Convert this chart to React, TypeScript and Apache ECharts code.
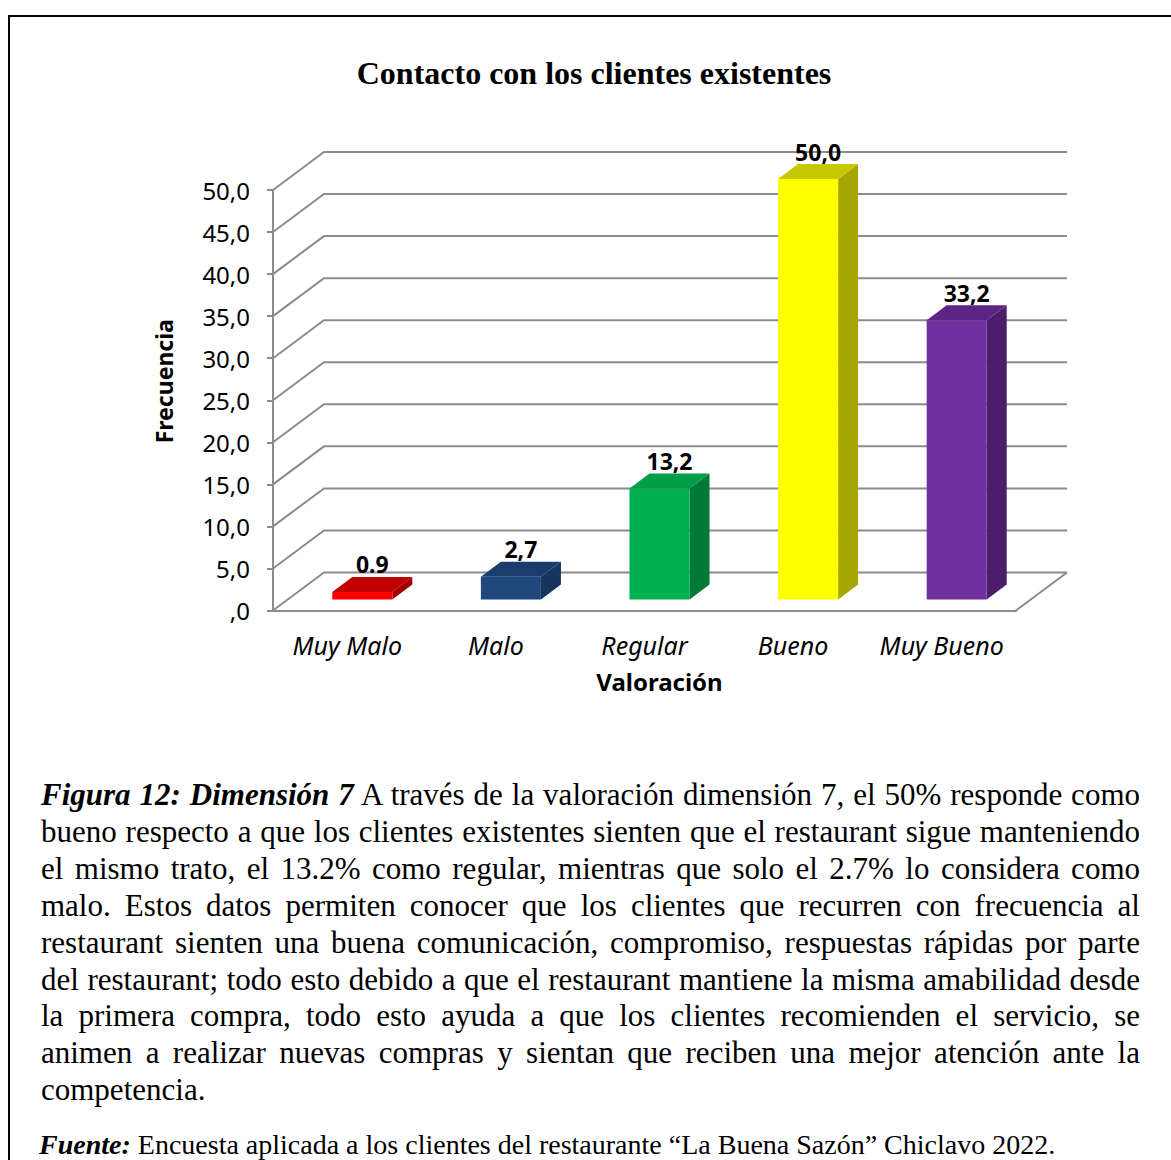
import React, { useEffect, useRef } from "react";
import * as echarts from "echarts";

const categories = ["Muy Malo", "Malo", "Regular", "Bueno", "Muy Bueno"];
const values = [0.9, 2.7, 13.2, 50.0, 33.2];
const valueLabels = ["0.9", "2,7", "13,2", "50,0", "33,2"];
const yTicks = [0, 5, 10, 15, 20, 25, 30, 35, 40, 45, 50];
const yTickLabels = [",0", "5,0", "10,0", "15,0", "20,0", "25,0", "30,0", "35,0", "40,0", "45,0", "50,0"];

const frontColors = ["#FF0000", "#1F497D", "#00B050", "#FFFF00", "#7030A0"];
const topColors = ["#C00000", "#1B3D6B", "#009E47", "#C8C800", "#5C2585"];
const sideColors = ["#A00000", "#17345C", "#007A36", "#A6A600", "#4B1E6B"];

const paragraphLines: { b?: string; t: string }[] = [
  { b: "Figura 12: Dimensión 7", t: " A través de la valoración dimensión 7, el 50% responde como" },
  { t: "bueno respecto a que los clientes existentes sienten que el restaurant sigue manteniendo" },
  { t: "el mismo trato, el 13.2% como regular, mientras que solo el 2.7% lo considera como" },
  { t: "malo. Estos datos permiten conocer que los clientes que recurren con frecuencia al" },
  { t: "restaurant sienten una buena comunicación, compromiso, respuestas rápidas por parte" },
  { t: "del restaurant; todo esto debido a que el restaurant mantiene la misma amabilidad desde" },
  { t: "la primera compra, todo esto ayuda a que los clientes recomienden el servicio, se" },
  { t: "animen a realizar nuevas compras y sientan que reciben una mejor atención ante la" },
  { t: "competencia." },
];

const GRID_COLOR = "#8c8c8c";
const WALL_DX = 51;
const WALL_DY = 38;
const SANS = "'Noto Sans', 'Open Sans', sans-serif";
const SERIF = "'Liberation Serif', 'Times New Roman', serif";

function App() {
  const ref = useRef<HTMLDivElement>(null);

  useEffect(() => {
    if (!ref.current) return;
    const chart = echarts.init(ref.current, null, { renderer: "svg" });

    const option: any = {
      animation: false,
      backgroundColor: "transparent",
      title: {
        text: "Contacto con los clientes existentes",
        left: 594,
        textAlign: "center",
        top: 57,
        padding: 0,
        textStyle: { fontFamily: SERIF, fontWeight: "bold", fontSize: 32, color: "#000" },
      },
      grid: { left: 273, top: 190, width: 743, height: 420.5 },
      xAxis: {
        type: "category",
        data: categories,
        boundaryGap: true,
        axisLine: { show: true, lineStyle: { color: GRID_COLOR, width: 2 } },
        axisTick: { show: false },
        axisLabel: {
          interval: 0,
          margin: 22,
          fontFamily: SANS,
          fontStyle: "italic",
          fontSize: 25,
          color: "#000",
        },
        name: "Valoración",
        nameLocation: "middle",
        nameGap: 59,
        nameTextStyle: {
          fontFamily: SANS,
          fontWeight: "bold",
          fontSize: 24,
          color: "#000",
          padding: [0, 0, 0, 30],
        },
      },
      yAxis: {
        type: "value",
        min: 0,
        max: 50,
        interval: 5,
        axisLine: { show: true, lineStyle: { color: GRID_COLOR, width: 2 } },
        axisTick: { show: true, length: 6, lineStyle: { color: GRID_COLOR, width: 2 } },
        splitLine: { show: false },
        axisLabel: {
          margin: 23,
          fontFamily: SANS,
          fontSize: 24,
          color: "#000",
          formatter: (v: number) => {
            const idx = yTicks.indexOf(v);
            return idx >= 0 ? yTickLabels[idx] : "";
          },
        },
        name: "Frecuencia",
        nameLocation: "middle",
        nameGap: 98,
        nameRotate: 90,
        nameTextStyle: {
          fontFamily: SANS,
          fontWeight: "bold",
          fontSize: 23,
          color: "#000",
          padding: [0, 0, 0, 38],
        },
      },
      series: [
        {
          type: "custom",
          name: "walls",
          z: 1,
          silent: true,
          data: yTicks.map((v) => [0, v]),
          encode: { x: 0, y: 1 },
          renderItem: (params: any, api: any) => {
            const cs = params.coordSys;
            const v = api.value(1);
            const y = api.coord([0, v])[1];
            const x0 = cs.x;
            const x1 = cs.x + cs.width;
            const children: any[] = [
              {
                type: "polyline",
                shape: {
                  points: [
                    [x0, y],
                    [x0 + WALL_DX, y - WALL_DY],
                    [x1 + WALL_DX, y - WALL_DY],
                  ],
                },
                style: { stroke: GRID_COLOR, lineWidth: 2, fill: "none" },
              },
            ];
            if (v === 0) {
              children.push({
                type: "line",
                shape: { x1: x1, y1: y, x2: x1 + WALL_DX, y2: y - WALL_DY },
                style: { stroke: GRID_COLOR, lineWidth: 2 },
              });
            }
            return { type: "group", children };
          },
        },
        {
          type: "custom",
          name: "Frecuencia",
          z: 5,
          data: values.map((v, i) => [i, v]),
          encode: { x: 0, y: 1 },
          renderItem: (params: any, api: any) => {
            const i = api.value(0);
            const v = api.value(1);
            const top = api.coord([i, v]);
            const base = api.coord([i, 0]);
            const catW = api.size([1, 0])[0];
            const bw = catW * 0.404;
            const ox = 15;
            const oy = -11;
            const dx = 20;
            const dy = -15;
            const cx = top[0];
            const fl = cx + ox - bw / 2;
            const fr = fl + bw;
            const ft = top[1] + oy;
            const fb = base[1] + oy;
            return {
              type: "group",
              children: [
                {
                  type: "polygon",
                  shape: { points: [[fr, ft], [fr + dx, ft + dy], [fr + dx, fb + dy], [fr, fb]] },
                  style: { fill: sideColors[i] },
                },
                {
                  type: "rect",
                  shape: { x: fl, y: ft, width: bw, height: fb - ft },
                  style: { fill: frontColors[i] },
                },
                {
                  type: "polygon",
                  shape: { points: [[fl, ft], [fr, ft], [fr + dx, ft + dy], [fl + dx, ft + dy]] },
                  style: { fill: topColors[i] },
                },
                {
                  type: "text",
                  style: {
                    x: cx + ox + dx / 2,
                    y: ft + dy - 1,
                    text: valueLabels[i],
                    align: "center",
                    verticalAlign: "bottom",
                    fill: "#000",
                    font: `bold 23px ${SANS}`,
                  },
                },
              ],
            };
          },
        },
      ],
    };

    chart.setOption(option);
    return () => chart.dispose();
  }, []);

  return (
    <div
      style={{
        position: "fixed",
        left: 0,
        top: 0,
        width: 1171,
        height: 1160,
        overflow: "hidden",
        background: "#fff",
      }}
    >
      <div
        style={{
          position: "absolute",
          left: 8,
          top: 15,
          width: 2000,
          height: 2000,
          borderLeft: "2px solid #000",
          borderTop: "2px solid #000",
        }}
      />
      <div ref={ref} style={{ position: "absolute", left: 0, top: 0, width: 1171, height: 720 }} />
      <div
        style={{
          position: "absolute",
          left: 41,
          top: 777,
          width: 1099,
          fontFamily: SERIF,
          fontSize: 31,
          lineHeight: "36.9px",
          color: "#000",
        }}
      >
        {paragraphLines.map((l, idx) => (
          <div
            key={idx}
            style={{
              textAlign: idx === paragraphLines.length - 1 ? "left" : "justify",
              textAlignLast: idx === paragraphLines.length - 1 ? "left" : "justify",
              whiteSpace: "nowrap",
            }}
          >
            {l.b ? <b><i>{l.b}</i></b> : null}
            {l.t}
          </div>
        ))}
      </div>
      <div
        style={{
          position: "absolute",
          left: 39,
          top: 1130,
          fontFamily: SERIF,
          fontSize: 28,
          lineHeight: "30px",
          color: "#000",
          whiteSpace: "nowrap",
        }}
      >
        <b><i>Fuente:</i></b> Encuesta aplicada a los clientes del restaurante “La Buena Sazón” Chiclavo 2022.
      </div>
    </div>
  );
}

export default App;
